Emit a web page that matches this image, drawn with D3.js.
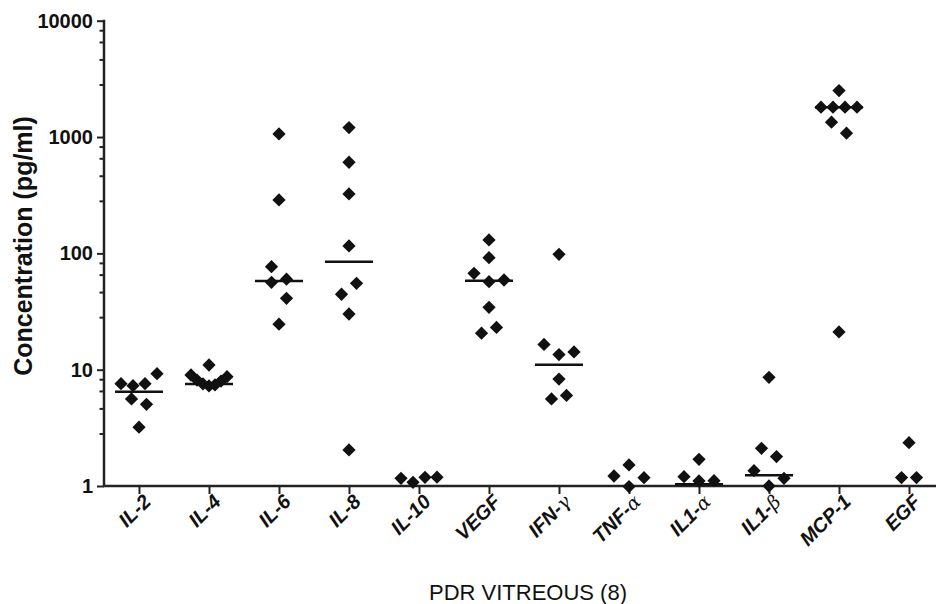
<!DOCTYPE html>
<html>
<head>
<meta charset="utf-8">
<script src="https://cdn.jsdelivr.net/npm/d3@7"></script>
<style>
  body { margin: 0; background: #fff; }
  svg text { font-family: "Liberation Sans", Arial, sans-serif; }
</style>
</head>
<body>
<div id="chart"></div>
<script>
// cytokine levels, pg/ml, one array per column (listed left->right within a row)
var categories = ["IL-2", "IL-4", "IL-6", "IL-8", "IL-10", "VEGF", "IFN-γ", "TNF-α", "IL1-α", "IL1-β", "MCP-1", "EGF"];

var il2  = [7.58, 7.29, 7.58, 9.24, 5.60, 5.04, 3.20];
var il4  = [10.97, 9.00, 8.15, 7.54, 7.24, 7.39, 7.99, 8.71];
var il6  = [1063, 288, 76.8, 56.4, 59.9, 41.1, 24.6];
var il8  = [1205, 607, 324, 115.8, 44.5, 55.3, 30.1, 2.04];
var il10 = [1.165, 1.076, 1.188, 1.19];
var vegf = [130.4, 91.8, 67.4, 57.1, 59.0, 34.4, 20.6, 23.1];
var ifng = [98.2, 16.5, 13.5, 14.2, 8.3, 5.6, 6.0];
var tnfa = [1.516, 1.219, 0.99, 1.179];
var il1a = [1.697, 1.202, 1.104, 1.11];
var il1b = [8.60, 2.11, 1.79, 1.354, 1.0, 1.165];
var mcp1 = [2506, 1804, 1804, 1804, 1804, 1341, 1078, 21.1];
var egf  = [2.357, 1.183, 1.183];

var seriesValues = [il2, il4, il6, il8, il10, vegf, ifng, tnfa, il1a, il1b, mcp1, egf];

// medians (null = not drawn)
var medians = [6.47, 7.54, 57.9, 84.8, null, 58.2, 11.0, null, 1.034, 1.236, 1804, null];

var majorTicks = [1, 10, 100, 1000, 10000];
var minorFactors = [0.82, 0.65, 0.46, 0.28];

var width = 936, height = 604;
var svg = d3.select("#chart").append("svg")
    .attr("width", width)
    .attr("height", height);

var x = d3.scalePoint()
    .domain(categories)
    .range([104, 944])
    .padding(0.5);

var y = d3.scaleLog()
    .domain([1, 10000])
    .range([486, 20.7]);

// y axis
var yAxis = svg.append("g")
    .attr("transform", "translate(104,0)")
    .call(d3.axisLeft(y).tickValues(majorTicks).tickFormat(d3.format("d")).tickSize(7).tickPadding(4));
yAxis.select(".domain").remove();
yAxis.selectAll("line").attr("stroke", "#222").attr("stroke-width", 2);
yAxis.selectAll("text")
    .attr("fill", "#111")
    .style("font-size", "20px")
    .style("font-weight", "bold");

var minorTicks = [];
majorTicks.slice(1).forEach(function(m) {
  minorFactors.forEach(function(f) { minorTicks.push(m * f); });
});
svg.append("g").selectAll("line")
    .data(minorTicks)
    .enter().append("line")
    .attr("x1", 99.5).attr("x2", 104)
    .attr("y1", function(d) { return y(d); })
    .attr("y2", function(d) { return y(d); })
    .attr("stroke", "#222").attr("stroke-width", 2);

svg.append("line")
    .attr("x1", 104).attr("x2", 104)
    .attr("y1", y(10000) - 1).attr("y2", y(1) + 1)
    .attr("stroke", "#222").attr("stroke-width", 2.5);

// x axis
var xAxis = svg.append("g")
    .attr("transform", "translate(0," + y(1) + ")")
    .call(d3.axisBottom(x).tickSize(8).tickFormat(""));
xAxis.select(".domain").remove();
xAxis.selectAll("line").attr("stroke", "#222").attr("stroke-width", 2);

svg.append("line")
    .attr("x1", 103).attr("x2", 936)
    .attr("y1", y(1)).attr("y2", y(1))
    .attr("stroke", "#222").attr("stroke-width", 2.5);

// category labels at 45 degrees, rotation on the wrapping group
var labelG = svg.append("g").selectAll("g")
    .data(categories)
    .enter().append("g")
    .attr("transform", function(d) { return "translate(" + (x(d) + 13) + ",503) rotate(-45)"; });
var labels = labelG.append("text")
    .attr("x", 0).attr("y", 0)
    .attr("text-anchor", "end")
    .attr("fill", "#111")
    .style("font-size", "20px")
    .style("font-weight", "bold")
    .style("font-style", "italic");
labels.each(function(d) {
  var t = d3.select(this);
  var m = d.match(/^(.*?)([αβγ])$/);
  if (m) {
    t.append("tspan").text(m[1]);
    t.append("tspan").text(m[2])
      .style("font-family", "'DejaVu Serif', 'Liberation Serif', serif")
      .style("font-weight", "normal")
      .style("font-size", "19px");
  } else {
    t.text(d);
  }
});

// axis titles
svg.append("text")
    .attr("transform", "translate(32,246) rotate(-90)")
    .attr("text-anchor", "middle")
    .attr("fill", "#111")
    .style("font-size", "25px")
    .style("font-weight", "bold")
    .text("Concentration (pg/ml)");

svg.append("text")
    .attr("x", 528).attr("y", 600)
    .attr("text-anchor", "middle")
    .attr("fill", "#111")
    .style("font-size", "22px")
    .text("PDR VITREOUS (8)");

// column scatter: group close values into rows (from the bottom up), spread each row sideways
var rowGap = 16;
function spreadColumn(vals) {
  var idx = vals.map(function(v, i) { return i; });
  idx.sort(function(a, b) { return vals[a] - vals[b]; });
  var rows = [], cur = null;
  idx.forEach(function(i) {
    var py = y(Math.max(vals[i], 0.985));
    if (cur && cur.base - py < rowGap) cur.items.push(i);
    else { cur = { base: py, items: [i] }; rows.push(cur); }
  });
  var out = [];
  rows.forEach(function(r) {
    r.items.sort(function(a, b) { return a - b; });
    var n = r.items.length;
    var step = n > 1 ? Math.min(15, 36 / (n - 1)) : 0;
    r.items.forEach(function(i, k) {
      out.push({ v: vals[i], dx: (k - (n - 1) / 2) * step });
    });
  });
  return out;
}

var diamond = d3.symbol().type(d3.symbolSquare).size(88);

var cols = svg.append("g").selectAll("g")
    .data(categories)
    .enter().append("g")
    .attr("transform", function(d) { return "translate(" + x(d) + ",0)"; });

cols.each(function(d, ci) {
  var g = d3.select(this);
  var pts = spreadColumn(seriesValues[ci]);
  g.selectAll("path")
    .data(pts)
    .enter().append("path")
    .attr("d", diamond)
    .attr("fill", "#111")
    .attr("transform", function(p) {
      return "translate(" + p.dx + "," + y(Math.max(p.v, 0.985)) + ") rotate(45)";
    });
  if (medians[ci] != null) {
    g.append("line")
      .attr("x1", -24).attr("x2", 24)
      .attr("y1", y(medians[ci])).attr("y2", y(medians[ci]))
      .attr("stroke", "#111").attr("stroke-width", 2.5);
  }
});
</script>
</body>
</html>
